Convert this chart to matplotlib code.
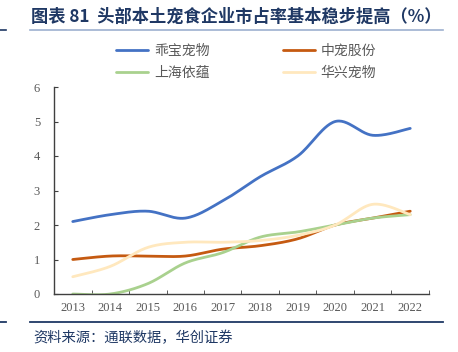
import numpy as np
import matplotlib.pyplot as plt
from matplotlib.lines import Line2D

plt.rcParams['font.family'] = ['Noto Sans CJK SC', 'DejaVu Sans']

years = ['2013', '2014', '2015', '2016', '2017', '2018', '2019', '2020', '2021', '2022']
guaibao = [2.1, 2.3, 2.4, 2.2, 2.7, 3.4, 4.0, 5.0, 4.6, 4.8]
zhongchong = [1.0, 1.1, 1.1, 1.1, 1.3, 1.4, 1.6, 2.0, 2.2, 2.4]
shanghai_yiyun = [0.0, 0.0, 0.3, 0.9, 1.2, 1.65, 1.8, 2.0, 2.2, 2.3]
huaxing = [0.5, 0.8, 1.35, 1.5, 1.5, 1.55, 1.7, 2.0, 2.6, 2.3]

series = [
    ('乖宝宠物', guaibao, '#4472C4'),
    ('中宠股份', zhongchong, '#C55A11'),
    ('上海依蕴', shanghai_yiyun, '#A9D18E'),
    ('华兴宠物', huaxing, '#FFE8BE'),
]


def smooth(x, y, n=30):
    # Catmull-Rom style smoothing, like Excel's "smoothed line"
    x = np.asarray(x, float)
    y = np.asarray(y, float)
    px = np.concatenate([[x[0]], x, [x[-1]]])
    py = np.concatenate([[y[0]], y, [y[-1]]])
    xs, ys = [], []
    t = np.linspace(0, 1, n)
    for i in range(1, len(px) - 2):
        p0, p1, p2, p3 = (np.array([px[j], py[j]]) for j in range(i - 1, i + 3))
        c1 = p1 + (p2 - p0) / 6
        c2 = p2 - (p3 - p1) / 6
        b = ((1 - t) ** 3)[:, None] * p1 + (3 * (1 - t) ** 2 * t)[:, None] * c1 \
            + (3 * (1 - t) * t ** 2)[:, None] * c2 + (t ** 3)[:, None] * p2
        xs.append(b[:, 0])
        ys.append(b[:, 1])
    return np.concatenate(xs), np.concatenate(ys)


fig = plt.figure(figsize=(4.58, 3.52), dpi=100)
ax = fig.add_axes([54 / 458, 1 - 294 / 352, 375 / 458, 207 / 352])

x = np.arange(len(years))
handles = {}
for name, vals, color in series:
    sx, sy = smooth(x, vals)
    handles[name], = ax.plot(sx, sy, color=color, lw=2.0, label=name, solid_capstyle='round')

ax.set_xlim(-0.5, len(years) - 0.5)
ax.set_ylim(0, 6)
ax.set_xticks(x)
ax.set_xticklabels(years)
ax.set_xticks(np.arange(-0.5, len(years)), minor=True)
ax.tick_params(axis='x', which='major', length=0, pad=6)
ax.tick_params(axis='x', which='minor', direction='in', length=3, color='#404040')
ax.tick_params(axis='y', direction='in', length=3, color='#404040', pad=10)
for lab in ax.get_xticklabels() + ax.get_yticklabels():
    lab.set_fontfamily('Liberation Serif')
    lab.set_fontsize(9)
    lab.set_color('#595959')
for s in ['top', 'right']:
    ax.spines[s].set_visible(False)
for s in ['left', 'bottom']:
    ax.spines[s].set_color('#404040')
    ax.spines[s].set_linewidth(1.0)

# legend: row 1 = 乖宝, 中宠; row 2 = 上海依蕴, 华兴 (matplotlib fills by column)
order = ['乖宝宠物', '上海依蕴', '中宠股份', '华兴宠物']
ax.legend([handles[k] for k in order], order, ncol=2, loc='upper left',
          bbox_to_anchor=(0.133, 1.27), frameon=False,
          fontsize=10, handlelength=2.3, columnspacing=5.3, labelspacing=0.6,
          handletextpad=0.4, labelcolor='#595959')

# title and frame lines
fig.text(31 / 458, 1 - 17 / 352, '图表 81  头部本土宠食企业市占率基本稳步提高（%）',
         fontsize=12.4, fontweight='bold', color='#1F3864', va='center', ha='left')
fig.add_artist(Line2D([30 / 458, 443 / 458], [1 - 30 / 352] * 2, color='#9DB0CF', lw=1.2))
fig.add_artist(Line2D([0, 6 / 458], [1 - 30 / 352] * 2, color='#1F3864', lw=1.2))
fig.add_artist(Line2D([30 / 458, 443 / 458], [1 - 322 / 352] * 2, color='#1F3864', lw=1.3))
fig.add_artist(Line2D([0, 6 / 458], [1 - 322 / 352] * 2, color='#1F3864', lw=1.3))
fig.text(33 / 458, 1 - 338 / 352, '资料来源：通联数据，华创证券', fontsize=10.3,
         color='#1F3864', va='center', ha='left')

fig.savefig('out.png', dpi=100)
